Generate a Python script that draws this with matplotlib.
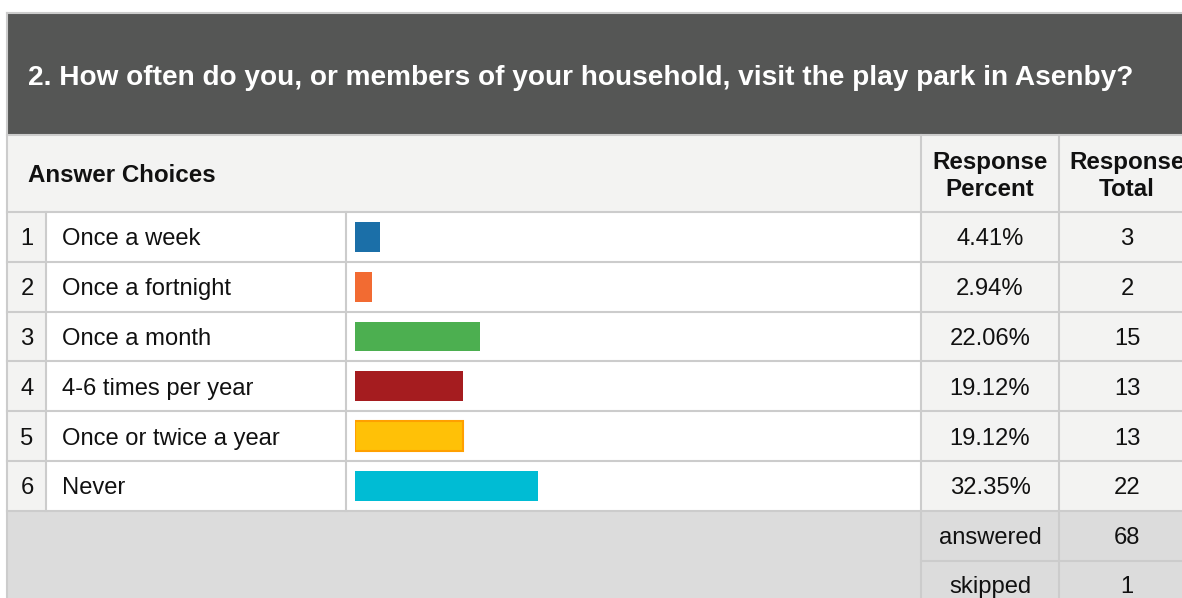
import matplotlib
matplotlib.use("Agg")
import matplotlib.pyplot as plt
from matplotlib.patches import Rectangle

# survey data
question = "2. How often do you, or members of your household, visit the play park in Asenby?"
choices = ["Once a week", "Once a fortnight", "Once a month",
           "4-6 times per year", "Once or twice a year", "Never"]
percents = [4.41, 2.94, 22.06, 19.12, 19.12, 32.35]
totals = [3, 2, 15, 13, 13, 22]
answered = 68
skipped = 1
bar_colors = ["#1b6fa8", "#f26b32", "#4caf50", "#a51c1f", "#ffc107", "#00bcd4"]

plt.rcParams['font.family'] = ['Liberation Sans', 'DejaVu Sans']

W, H = 1182, 598
fig = plt.figure(figsize=(W / 100, H / 100), dpi=100)
ax = fig.add_axes([0, 0, 1, 1])
ax.set_xlim(0, W)
ax.set_ylim(H, 0)
ax.axis('off')

LINE = "#cccccc"
LIGHT = "#f3f3f2"
DARK = "#555655"
GREY = "#dcdcdc"
TXT = "#111111"
FS = 17.1

# layout (pixels)
x_left, x_num, x_lab, x_pct, x_tot = 7, 46, 346, 921, 1059
y_top, y_head, y_rows = 13, 135, 212
row_h = 49.8
n = len(choices)
y_end = y_rows + n * row_h
dy = 2.5  # text sits a little low in its cell

# header band
ax.add_patch(Rectangle((x_left, y_top), W - x_left, y_head - y_top, facecolor=DARK, edgecolor='none'))
ax.plot([x_left, W], [y_top, y_top], color=LINE, lw=1.5)
ax.text(28, 78, question, color='white', fontsize=20.2, fontweight='bold', va='center', ha='left')

# column header row
ax.add_patch(Rectangle((x_left, y_head), W - x_left, y_rows - y_head, facecolor=LIGHT, edgecolor='none'))
ax.text(28, 176, "Answer Choices", fontsize=17.4, fontweight='bold', va='center', color=TXT)
ax.text(990, 176, "Response\nPercent", fontsize=17.4, fontweight='bold', va='center', ha='center',
        color=TXT, linespacing=1.25)
# the reference cuts this header at the right edge as well
ax.text(1127, 176, "Response\nTotal", fontsize=17.4, fontweight='bold', va='center', ha='center',
        color=TXT, linespacing=1.25)

# body rows
for i in range(n):
    y0 = y_rows + i * row_h
    yc = y0 + row_h / 2 + dy
    ax.add_patch(Rectangle((x_left, y0), x_num - x_left, row_h, facecolor=LIGHT, edgecolor='none'))
    ax.add_patch(Rectangle((x_pct, y0), W - x_pct, row_h, facecolor=LIGHT, edgecolor='none'))
    ax.text(27, yc, str(i + 1), fontsize=FS, ha='center', va='center', color=TXT)
    ax.text(62, yc, choices[i], fontsize=FS, ha='left', va='center', color=TXT)
    ax.text(990, yc, "%.2f%%" % percents[i], fontsize=FS, ha='center', va='center', color=TXT)
    ax.text(1127, yc, str(totals[i]), fontsize=FS, ha='center', va='center', color=TXT)

# summary area
ax.add_patch(Rectangle((x_left, y_end), W - x_left, H - y_end, facecolor=GREY, edgecolor='none'))
ax.text(990, y_end + 25 + dy, "answered", fontsize=FS, ha='center', va='center', color=TXT)
ax.text(1127, y_end + 25 + dy, str(answered), fontsize=FS, ha='center', va='center', color=TXT)
ax.text(990, y_end + 74 + dy, "skipped", fontsize=FS, ha='center', va='center', color=TXT)
ax.text(1127, y_end + 74 + dy, str(skipped), fontsize=FS, ha='center', va='center', color=TXT)

# grid lines
for i in range(n + 1):
    y = y_rows + i * row_h
    ax.plot([x_left, W], [y, y], color=LINE, lw=1.5)
ax.plot([x_pct, W], [y_end + 50, y_end + 50], color=LINE, lw=1.5)
ax.plot([x_left, W], [y_head, y_head], color=LINE, lw=1.5)
ax.plot([x_left, x_left], [y_top, H], color=LINE, lw=1.5)
for x in (x_num, x_lab):
    ax.plot([x, x], [y_rows, y_end], color=LINE, lw=1.5)
ax.plot([x_pct, x_pct], [y_head, H], color=LINE, lw=1.5)
ax.plot([x_tot, x_tot], [y_head, H], color=LINE, lw=1.5)

# bars in their own axes: 0-100 % across the bar column
bx0, bx1 = 355, 921
bax = fig.add_axes([bx0 / W, 1 - y_end / H, (bx1 - bx0) / W, (y_end - y_rows) / H])
bax.set_xlim(0, 100)
bax.set_ylim(n, 0)
bax.axis('off')
ypos = [i + 0.5 for i in range(n)]
edges = ['none'] * n
edges[4] = "#ffa000"
bax.barh(ypos, percents, height=0.6, color=bar_colors, edgecolor=edges, linewidth=1.5)

fig.savefig("out.png", dpi=100)
